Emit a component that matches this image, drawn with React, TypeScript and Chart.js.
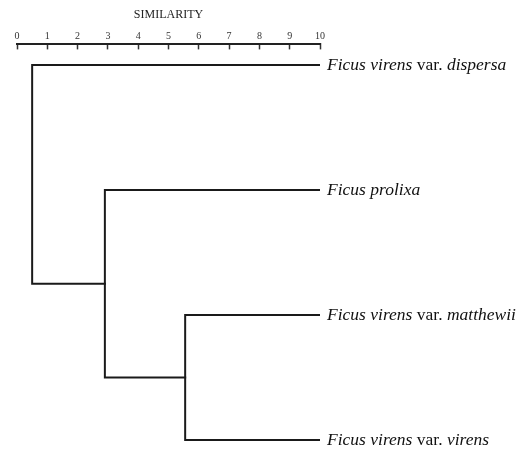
import React, { useEffect, useRef } from "react";
import { Chart, registerables } from "chart.js";

Chart.register(...registerables);

// Leaves (top to bottom), each label split into [text, italic] parts
const leafLabels: [string, boolean][][] = [
  [["Ficus virens", true], [" var. ", false], ["dispersa", true]],
  [["Ficus prolixa", true]],
  [["Ficus virens", true], [" var. ", false], ["matthewii", true]],
  [["Ficus virens", true], [" var. ", false], ["virens", true]],
];
// Linkage: merge i joins node mergeLeft[i] and mergeRight[i] at similarity mergeHeights[i]
// (nodes 0..3 are leaves, 4.. are merges in order)
const mergeLeft = [2, 1, 0];
const mergeRight = [3, 4, 5];
const mergeHeights = [5.55, 2.9, 0.5];
const leafSimilarity = 10;
const axisTitle = "SIMILARITY";
const axisMin = 0;
const axisMax = 10;

const FONT = "'Liberation Serif', 'Times New Roman', serif";

function buildSegments() {
  const nodeX: number[] = leafLabels.map(() => leafSimilarity);
  const nodeY: number[] = leafLabels.map((_, i) => i);
  const segs: { x: number; y: number }[][] = [];
  mergeHeights.forEach((h, i) => {
    const a = mergeLeft[i];
    const b = mergeRight[i];
    segs.push([
      { x: nodeX[a], y: nodeY[a] },
      { x: h, y: nodeY[a] },
      { x: h, y: nodeY[b] },
      { x: nodeX[b], y: nodeY[b] },
    ]);
    nodeX.push(h);
    nodeY.push((nodeY[a] + nodeY[b]) / 2);
  });
  return segs;
}

const labelPlugin = {
  id: "leafLabels",
  afterDatasetsDraw(chart: any) {
    const ctx = chart.ctx;
    const xs = chart.scales.x;
    const ys = chart.scales.y;
    ctx.save();
    ctx.fillStyle = "#111";
    ctx.textBaseline = "middle";
    ctx.textAlign = "left";
    leafLabels.forEach((parts, i) => {
      let x = xs.getPixelForValue(leafSimilarity) + 7;
      const y = ys.getPixelForValue(i);
      parts.forEach(([text, italic]) => {
        ctx.font = `${italic ? "italic " : ""}17.5px ${FONT}`;
        ctx.fillText(text, x, y);
        x += ctx.measureText(text).width;
      });
    });
    ctx.restore();
  },
};

export default function App() {
  const ref = useRef<HTMLCanvasElement | null>(null);
  useEffect(() => {
    document.body.style.margin = "0";
    if (!ref.current) return;
    const segs = buildSegments();
    const chart = new Chart(ref.current, {
      type: "scatter",
      data: {
        datasets: segs.map((s) => ({
          data: s,
          showLine: true,
          borderColor: "#1a1a1a",
          borderWidth: 2,
          pointRadius: 0,
          pointHoverRadius: 0,
          borderJoinStyle: "miter" as const,
          borderCapStyle: "square" as const,
          fill: false,
          tension: 0,
        })),
      },
      options: {
        animation: false,
        responsive: true,
        maintainAspectRatio: false,
        events: [],
        font: { family: FONT },
        layout: { padding: { left: 17, right: 207, top: 0, bottom: 0 } },
        plugins: { legend: { display: false }, tooltip: { enabled: false } },
        scales: {
          x: {
            type: "linear",
            position: "top",
            min: axisMin,
            max: axisMax,
            title: {
              display: true,
              text: axisTitle,
              color: "#222",
              font: { family: FONT, size: 12 },
              padding: { top: 8, bottom: 1 },
            },
            ticks: {
              stepSize: 1,
              color: "#333",
              font: { family: FONT, size: 10 },
              padding: 7,
              maxRotation: 0,
            },
            grid: {
              display: true,
              drawOnChartArea: false,
              drawTicks: true,
              tickLength: -5,
              tickColor: "#333",
              tickWidth: 1.5,
            },
            border: { display: true, color: "#222", width: 2 },
          },
          y: {
            type: "linear",
            display: false,
            reverse: true,
            min: -0.165,
            max: 3.08,
          },
        },
      },
      plugins: [labelPlugin],
    });
    return () => chart.destroy();
  }, []);
  return (
    <div style={{ position: "relative", width: 527, height: 450 }}>
      <canvas ref={ref} />
    </div>
  );
}
